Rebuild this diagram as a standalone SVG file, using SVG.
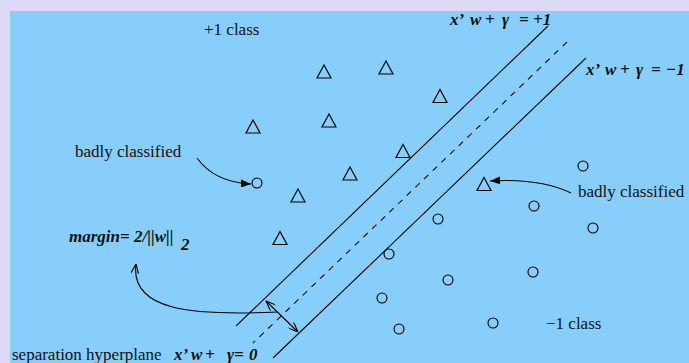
<svg xmlns="http://www.w3.org/2000/svg" width="689" height="363" viewBox="0 0 689 363">
<style>
.t{font-family:"Liberation Serif","Times New Roman",serif;font-size:17px;fill:#111}
.e{font-family:"Liberation Serif","Times New Roman",serif;font-size:17px;font-weight:bold;font-style:italic;fill:#111}
.ln{stroke:#000;stroke-width:1.1;fill:none}
.tri{stroke:#000;stroke-width:1.2;fill:none}
.pt{stroke:#000;stroke-width:1.1;fill:none}
</style>
<defs>
<marker id="fa" viewBox="0 0 10 8" refX="10" refY="4" markerWidth="10" markerHeight="8" markerUnits="userSpaceOnUse" orient="auto">
<path d="M0,0 L10,4 L0,8 Z" fill="#000"/>
</marker>
<marker id="oa" viewBox="0 0 10 8" refX="10" refY="4" markerWidth="10" markerHeight="8" markerUnits="userSpaceOnUse" orient="auto-start-reverse">
<path d="M0,0 L10,4 L0,8" fill="none" stroke="#000" stroke-width="1.1"/>
</marker>
<path id="tr" d="M0,-6.5 L7,6.5 L-7,6.5 Z"/>
</defs>
<rect x="0" y="0" width="689" height="363" fill="#dcdaf6"/>
<rect x="10" y="11" width="679" height="352" fill="#87cefa"/>

<g id="lines">
<line class="ln" x1="548" y1="26" x2="236" y2="326"/>
<line class="ln" x1="567" y1="42" x2="253" y2="343" stroke-dasharray="6,6"/>
<line class="ln" x1="586" y1="58" x2="273" y2="358"/>
</g>

<g id="connectors">
<path class="ln" d="M197 158 Q 214 182 251 184" marker-end="url(#fa)"/>
<path class="ln" d="M571 193 Q 540 178 490 181" marker-end="url(#fa)"/>
<path class="ln" d="M277 312 C 190 316 130 310 136 264" marker-end="url(#oa)"/>
<line class="ln" x1="266" y1="301" x2="298" y2="332" marker-start="url(#oa)" marker-end="url(#oa)"/>
</g>

<g id="plus-class">
<use href="#tr" class="tri" x="324" y="71.5"/>
<use href="#tr" class="tri" x="386" y="67.5"/>
<use href="#tr" class="tri" x="440" y="96"/>
<use href="#tr" class="tri" x="253" y="126.5"/>
<use href="#tr" class="tri" x="329" y="120.5"/>
<use href="#tr" class="tri" x="403" y="151"/>
<use href="#tr" class="tri" x="350" y="173.5"/>
<use href="#tr" class="tri" x="298" y="195.5"/>
<use href="#tr" class="tri" x="280" y="238"/>
<use href="#tr" class="tri" x="484" y="184"/>
</g>

<g id="minus-class">
<circle class="pt" cx="257" cy="183" r="5"/>
<circle class="pt" cx="438" cy="219" r="5"/>
<circle class="pt" cx="583" cy="166" r="5"/>
<circle class="pt" cx="534" cy="206" r="5"/>
<circle class="pt" cx="593" cy="228" r="5"/>
<circle class="pt" cx="389" cy="254" r="5"/>
<circle class="pt" cx="448" cy="280" r="5"/>
<circle class="pt" cx="533" cy="272" r="5" stroke-width="1.5"/>
<circle class="pt" cx="382" cy="298" r="5"/>
<circle class="pt" cx="399" cy="329" r="5"/>
<circle class="pt" cx="493" cy="323" r="5"/>
</g>

<g id="labels">
<text class="t" x="204" y="35">+1 class</text>
<text class="e" y="25"><tspan x="450">x’</tspan><tspan x="470">w</tspan><tspan x="485">+</tspan><tspan x="502">γ</tspan><tspan x="519">=</tspan><tspan x="533">+1</tspan></text>
<text class="e" y="75"><tspan x="586">x’</tspan><tspan x="605">w</tspan><tspan x="620">+</tspan><tspan x="636">γ</tspan><tspan x="651">=</tspan><tspan x="666">−1</tspan></text>
<text class="t" x="75" y="157">badly classified</text>
<text class="t" x="578" y="197">badly classified</text>
<text class="e" x="69" y="242">margin= 2/||w||</text>
<text class="e" x="181" y="250" font-size="15">2</text>
<text class="t" x="12" y="360">separation hyperplane</text>
<text class="e" y="360"><tspan x="174">x’</tspan><tspan x="191">w</tspan><tspan x="205">+</tspan><tspan x="227">γ=</tspan><tspan x="249">0</tspan></text>
<text class="t" x="546" y="329">−1 class</text>
</g>
</svg>
